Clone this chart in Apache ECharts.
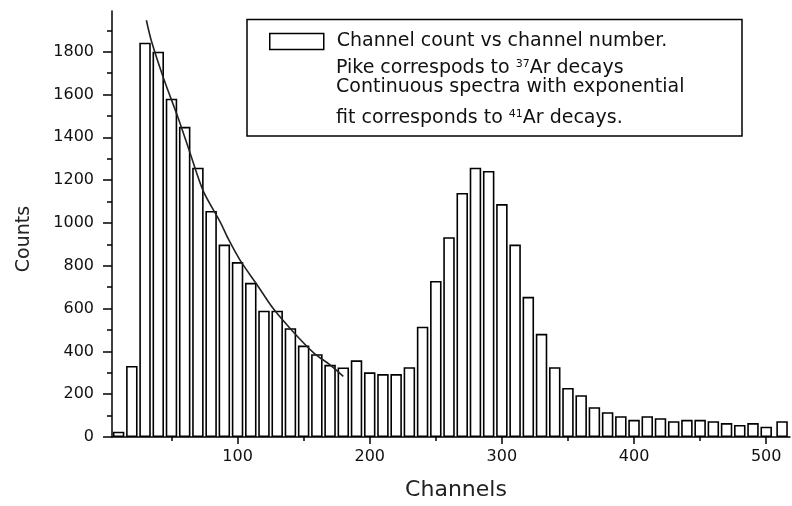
<!DOCTYPE html>
<html>
<head>
<meta charset="utf-8">
<script src="https://cdn.jsdelivr.net/npm/echarts@6/dist/echarts.min.js"></script>
<style>
  html, body { margin: 0; padding: 0; background: #fff; }
  #chart { width: 792px; height: 506px; }
</style>
</head>
<body>
<div id="chart"></div>
<script>
// channel (bin centre) of every bar
const channels = [10, 20, 30, 40, 50, 60, 70, 80, 90, 100,
  110, 120, 130, 140, 150, 160, 170, 180, 190, 200,
  210, 220, 230, 240, 250, 260, 270, 280, 290, 300,
  310, 320, 330, 340, 350, 360, 370, 380, 390, 400,
  410, 420, 430, 440, 450, 460, 470, 480, 490, 500, 512];
const counts = [25, 332, 1842, 1800, 1580, 1449, 1258, 1056, 899, 817,
  720, 590, 590, 508, 427, 387, 337, 325, 358, 302,
  294, 294, 326, 515, 729, 933, 1140, 1258, 1243, 1088,
  899, 655, 482, 326, 229, 195, 139, 116, 97, 80,
  97, 88, 74, 80, 80, 74, 65, 56, 65, 48, 74];

// exponential fit line
const fitX = [31, 35, 44, 55, 64, 74, 87, 93, 102, 115, 127, 142, 158, 170, 180];
const fitY = [1947, 1846, 1676, 1491, 1328, 1150, 1003, 925, 825, 709, 600, 492, 391, 337, 283];

const xTicks = [100, 200, 300, 400, 500];
const xMinorTicks = [50, 150, 250, 350, 450];
const yTicks = [0, 200, 400, 600, 800, 1000, 1200, 1400, 1600, 1800];
const yMinorTicks = [100, 300, 500, 700, 900, 1100, 1300, 1500, 1700, 1900];

const barName = 'Channel count vs channel number.';
const font = 'DejaVu Sans';

const chart = echarts.init(document.getElementById('chart'));

const axisLine = { show: true, onZero: false, lineStyle: { color: '#000', width: 1.5 } };

chart.setOption({
  animation: false,
  grid: { left: 112, top: 11, right: 2, bottom: 67 },
  legend: {
    data: [barName],
    left: 269,
    top: 32,
    padding: 0,
    icon: 'rect',
    itemWidth: 54,
    itemHeight: 16,
    selectedMode: false,
    itemStyle: { color: '#fff', borderColor: '#000', borderWidth: 1.5 },
    textStyle: { fontFamily: font, fontSize: 19, color: '#111', padding: [0, 0, 0, 8] },
  },
  xAxis: [
    {
      type: 'value',
      min: 5,
      max: 518,
      axisLine,
      splitLine: { show: false },
      axisTick: { customValues: xTicks, length: 7, lineStyle: { color: '#000', width: 1.5 } },
      axisLabel: { customValues: xTicks, fontFamily: font, fontSize: 16, color: '#111', margin: 12 },
      name: 'Channels',
      nameLocation: 'middle',
      nameGap: 42,
      nameTextStyle: { fontFamily: font, fontSize: 22, color: '#222', padding: [0, 0, 0, 10] },
    },
    {
      type: 'value',
      min: 5,
      max: 518,
      position: 'bottom',
      axisLine: { show: false },
      splitLine: { show: false },
      axisTick: { customValues: xMinorTicks, length: 4, lineStyle: { color: '#000', width: 1.5 } },
      axisLabel: { show: false },
    },
  ],
  yAxis: [
    {
      type: 'value',
      min: 0,
      max: 1990,
      axisLine,
      splitLine: { show: false },
      axisTick: { customValues: yTicks, length: 9, lineStyle: { color: '#000', width: 1.5 } },
      axisLabel: {
        customValues: yTicks,
        formatter: (v) => String(v),
        fontFamily: font, fontSize: 16, color: '#111', margin: 18,
      },
      name: 'Counts',
      nameLocation: 'middle',
      nameRotate: 90,
      nameGap: 78,
      nameTextStyle: { fontFamily: font, fontSize: 19, color: '#222', padding: [0, 30, 0, 0] },
    },
    {
      type: 'value',
      min: 0,
      max: 1990,
      position: 'left',
      axisLine: { show: false },
      splitLine: { show: false },
      axisTick: { customValues: yMinorTicks, length: 5, lineStyle: { color: '#000', width: 1.5 } },
      axisLabel: { show: false },
    },
  ],
  graphic: [
    {
      type: 'rect',
      shape: { x: 247, y: 19.5, width: 495, height: 116.5 },
      style: { fill: 'none', stroke: '#000', lineWidth: 1.5 },
      z: 10,
    },
    {
      type: 'text',
      x: 336,
      y: 68,
      z: 10,
      style: {
        text: 'Pike correspods to {sup|37}Ar decays',
        fontFamily: font, fontSize: 19, fill: '#111', verticalAlign: 'middle',
        rich: { sup: { fontFamily: font, fontSize: 11, verticalAlign: 'top', fill: '#111' } },
      },
    },
    {
      type: 'text',
      x: 336,
      y: 87.5,
      z: 10,
      style: {
        text: 'Continuous spectra with exponential',
        fontFamily: font, fontSize: 19, fill: '#111', verticalAlign: 'middle',
      },
    },
    {
      type: 'text',
      x: 336,
      y: 118,
      z: 10,
      style: {
        text: 'fit corresponds to {sup|41}Ar decays.',
        fontFamily: font, fontSize: 19, fill: '#111', verticalAlign: 'middle',
        rich: { sup: { fontFamily: font, fontSize: 11, verticalAlign: 'top', fill: '#111' } },
      },
    },
  ],
  series: [
    {
      name: barName,
      type: 'bar',
      xAxisIndex: 0,
      yAxisIndex: 0,
      barWidth: 11.5,
      itemStyle: { color: '#fff', borderColor: '#000', borderWidth: 1.6 },
      data: channels.map((c, i) => [c, counts[i]]),
    },
    {
      name: 'Exponential fit',
      type: 'line',
      xAxisIndex: 0,
      yAxisIndex: 0,
      smooth: 0.3,
      showSymbol: false,
      lineStyle: { color: '#222', width: 1.6 },
      data: fitX.map((x, i) => [x, fitY[i]]),
      z: 5,
    },
  ],
});
</script>
</body>
</html>
